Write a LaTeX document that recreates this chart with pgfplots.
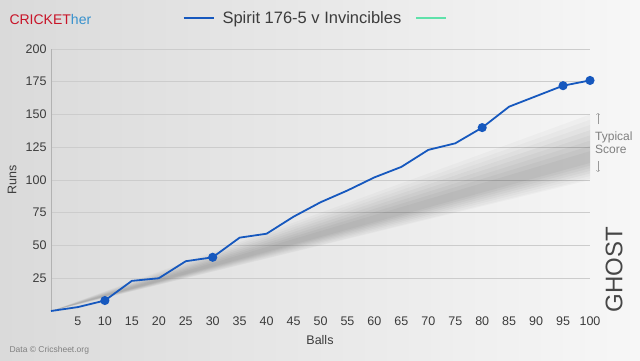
\documentclass[border=0pt]{standalone}
\usepackage{pgfplots}
\pgfplotsset{compat=1.18}
\usepackage{fontspec}
\setmainfont{Liberation Sans}
\definecolor{runblue}{RGB}{22,88,190}
\definecolor{legreen}{RGB}{95,225,170}
\definecolor{cricred}{RGB}{200,20,40}
\definecolor{cricblue}{RGB}{55,145,205}
\definecolor{txtgray}{RGB}{60,60,60}
\definecolor{bgleft}{RGB}{218,218,218}
\definecolor{bgright}{RGB}{247,247,247}
\begin{document}
\begin{tikzpicture}[x=1pt,y=1pt]
\shade[left color=bgleft, right color=bgright] (0,0) rectangle (640,360);
\node[anchor=west, font=\fontsize{14}{16}\selectfont] at (6,341) {\textcolor{cricred}{CRICKET}\textcolor{cricblue}{her}};
\node[anchor=west, font=\fontsize{8.5}{10}\selectfont, text=gray] at (6,10) {Data © Cricsheet.org};
\begin{axis}[
  at={(51pt,49pt)}, anchor=south west, scale only axis,
  width=539pt, height=262pt,
  xmin=0, xmax=100, ymin=0, ymax=200,
  xtick={5,10,...,100}, ytick={25,50,...,200},
  ymajorgrids, grid style={color=gray!40, line width=0.6pt},
  axis lines=left, axis line style={-},
  x axis line style={draw=none},
  y axis line style={draw=gray!60, line width=0.6pt},
  major tick length=0pt,
  /pgf/number format/assume math mode=true,
  tick label style={font=\fontsize{12.5}{14}\selectfont, text=txtgray},
  xticklabel style={yshift=-2pt},
  yticklabel style={xshift=-1pt},
  xlabel={Balls}, ylabel={Runs},
  label style={font=\fontsize{12.5}{14}\selectfont, text=txtgray},
  xlabel style={at={(axis description cs:0.499,-0.11)}, anchor=center},
  ylabel style={at={(axis description cs:-0.072,0.5)}, anchor=center, rotate=0},
  legend style={at={(axis description cs:0.499,1.119)}, anchor=center, draw=none, fill=none,
    font=\fontsize{16.5}{18}\selectfont, text=txtgray,
    /tikz/every odd column/.append style={column sep=6pt},
    /tikz/every even column/.append style={column sep=12pt}},
  legend columns=-1,
  legend image code/.code={\draw[#1, mark=none] (0pt,0pt) -- (30pt,0pt);},
  clip=false,
]
\addplot[fill=black, fill opacity=0.025, draw=none, forget plot] coordinates {(0,0) (100,150) (100,100) (0,0)};
\addplot[fill=black, fill opacity=0.025, draw=none, forget plot] coordinates {(0,0) (100,146) (100,101) (0,0)};
\addplot[fill=black, fill opacity=0.025, draw=none, forget plot] coordinates {(0,0) (100,142) (100,103) (0,0)};
\addplot[fill=black, fill opacity=0.03, draw=none, forget plot] coordinates {(0,0) (100,138) (100,105) (0,0)};
\addplot[fill=black, fill opacity=0.03, draw=none, forget plot] coordinates {(0,0) (100,134) (100,107) (0,0)};
\addplot[fill=black, fill opacity=0.03, draw=none, forget plot] coordinates {(0,0) (100,130) (100,109) (0,0)};
\addplot[fill=black, fill opacity=0.03, draw=none, forget plot] coordinates {(0,0) (100,126) (100,111) (0,0)};
\addplot[fill=black, fill opacity=0.03, draw=none, forget plot] coordinates {(0,0) (100,122) (100,113) (0,0)};
\addplot[color=runblue, line width=1.8pt, mark=*, mark size=3.6pt, mark indices={3,7,17,20,21}, mark options={fill=runblue, draw=runblue}] coordinates {
(0,0) (5,3) (10,8) (15,23) (20,25) (25,38) (30,41) (35,56) (40,59) (45,72) (50,83)
(55,92) (60,102) (65,110) (70,123) (75,128) (80,140) (85,156) (90,164) (95,172) (100,176)};
\addlegendentry{Spirit 176-5 v Invincibles}
\addlegendimage{color=legreen, line width=1.8pt}
\addlegendentry{}
\end{axis}
\node[anchor=west, align=left, font=\fontsize{12}{13}\selectfont, text=gray, inner sep=0pt] at (595,217) {Typical\\Score};
\draw[->, gray!80, line width=0.5pt] (598,236) -- (598,247);
\draw[->, gray!80, line width=0.5pt] (598,199) -- (598,188);
\node[rotate=90, font=\fontsize{24}{26}\selectfont, text=gray!55!black] at (614,90) {GHOST};
\end{tikzpicture}
\end{document}
